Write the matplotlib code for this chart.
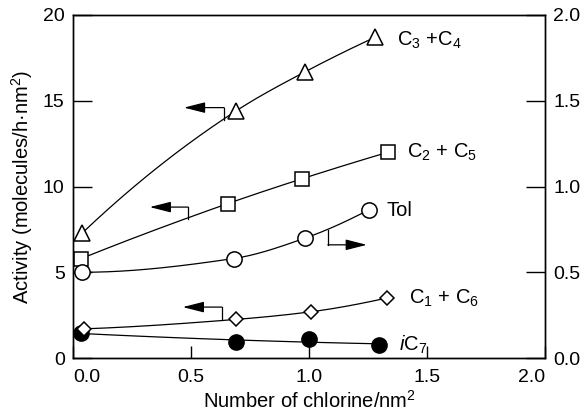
import numpy as np
import matplotlib
matplotlib.use("Agg")
import matplotlib.pyplot as plt

plt.rcParams["font.family"] = ["Liberation Sans", "DejaVu Sans"]
plt.rcParams["mathtext.fontset"] = "custom"
plt.rcParams["mathtext.rm"] = "Liberation Sans"
plt.rcParams["mathtext.it"] = "Liberation Sans:italic"

# chlorine density (per nm^2) and activities, left axis in molecules/h.nm^2
x_c3c4 = [0.04, 0.69, 0.985, 1.28]
y_c3c4 = [7.3, 14.4, 16.7, 18.7]

x_c2c5 = [0.035, 0.655, 0.97, 1.335]
y_c2c5 = [5.8, 9.0, 10.45, 12.0]

x_c1c6 = [0.045, 0.69, 1.01, 1.33]
y_c1c6 = [1.7, 2.25, 2.7, 3.5]

x_ic7 = [0.035, 0.69, 1.0, 1.295]
y_ic7 = [1.45, 0.93, 1.1, 0.76]

# toluene goes on the right axis
x_tol = [0.04, 0.68, 0.985, 1.255]
y_tol = [0.50, 0.58, 0.70, 0.865]


def smooth(xs, ys, n=60):
    # monotone cubic (Fritsch-Carlson) through the points
    x = np.asarray(xs, float)
    y = np.asarray(ys, float)
    h = np.diff(x)
    d = np.diff(y) / h
    m = np.zeros_like(y)
    for k in range(1, len(x) - 1):
        if d[k - 1] * d[k] > 0:
            w1 = 2 * h[k] + h[k - 1]
            w2 = h[k] + 2 * h[k - 1]
            m[k] = (w1 + w2) / (w1 / d[k - 1] + w2 / d[k])
    m[0] = ((2 * h[0] + h[1]) * d[0] - h[0] * d[1]) / (h[0] + h[1])
    if np.sign(m[0]) != np.sign(d[0]):
        m[0] = 0
    m[-1] = ((2 * h[-1] + h[-2]) * d[-1] - h[-1] * d[-2]) / (h[-1] + h[-2])
    if np.sign(m[-1]) != np.sign(d[-1]):
        m[-1] = 0
    xx, yy = [], []
    for k in range(len(x) - 1):
        t = np.linspace(0, 1, n)
        h00 = 2 * t**3 - 3 * t**2 + 1
        h10 = t**3 - 2 * t**2 + t
        h01 = -2 * t**3 + 3 * t**2
        h11 = t**3 - t**2
        xx.append(x[k] + t * h[k])
        yy.append(h00 * y[k] + h10 * h[k] * m[k] + h01 * y[k + 1] + h11 * h[k] * m[k + 1])
    return np.concatenate(xx), np.concatenate(yy)


fig = plt.figure(figsize=(5.87, 4.12), dpi=100)
ax = fig.add_axes([0.1244, 0.131, 0.8041, 0.8326])
ax2 = ax.twinx()

lw = 0.9
mk = dict(color="black", markerfacecolor="white", markeredgecolor="black",
          markeredgewidth=1.1, linestyle="none", zorder=6)

ax.plot(*smooth(x_c3c4, y_c3c4), color="black", lw=lw)
ax.plot(x_c3c4, y_c3c4, marker="^", ms=12, **mk)

ax.plot(*smooth(x_c2c5, y_c2c5), color="black", lw=lw)
ax.plot(x_c2c5, y_c2c5, marker="s", ms=10, **mk)

coef = np.polyfit(x_ic7, y_ic7, 2)
xf = np.linspace(x_ic7[0], x_ic7[-1], 100)
ax.plot(xf, np.polyval(coef, xf), color="black", lw=lw)
ax.plot(x_ic7, y_ic7, marker="o", ms=11, color="black", linestyle="none", zorder=5)

ax.plot(*smooth(x_c1c6, y_c1c6), color="black", lw=lw)
ax.plot(x_c1c6, y_c1c6, marker="D", ms=7.6, **mk)

ax2.plot(*smooth(x_tol, y_tol), color="black", lw=lw)
ax2.plot(x_tol, y_tol, marker="o", ms=11, **mk)

# bracket arrows pointing at the axis each curve belongs to
head = dict(arrowstyle="-|>,head_length=1.3,head_width=0.33", mutation_scale=10,
            color="black", lw=lw, shrinkA=0, shrinkB=0)


def bracket(x0, y0, y1, x_tip):
    ax.plot([x0, x0], [y0, y1], color="black", lw=lw)
    ax.annotate("", xy=(x_tip, y1), xytext=(x0, y1), arrowprops=head)


bracket(0.64, 13.9, 14.6, 0.47)
bracket(0.487, 8.1, 8.8, 0.325)
bracket(0.63, 2.2, 2.97, 0.465)
bracket(1.08, 7.45, 6.6, 1.245)

fs = 14
ax.text(1.373, 18.55, "C$_3$ +C$_4$", fontsize=14.5, va="center")
ax.text(1.415, 12.0, "C$_2$ + C$_5$", fontsize=14.5, va="center")
ax.text(1.327, 8.63, "Tol", fontsize=14.5, va="center")
ax.text(1.424, 3.5, "C$_1$ + C$_6$", fontsize=14.5, va="center")
ax.text(1.38, 0.76, "$i$C$_7$", fontsize=14.5, va="center")

ax.set_xlim(0, 2.0)
ax.set_ylim(0, 20)
ax2.set_ylim(0, 2.0)

ax.set_xticks([0.0, 0.5, 1.0, 1.5, 2.0])
ax.set_xticklabels(["0.0", "0.5", "1.0", "1.5", "2.0"])
ax.set_yticks([0, 5, 10, 15, 20])
ax2.set_yticks([0.0, 0.5, 1.0, 1.5, 2.0])
ax2.set_yticklabels(["0.0", "0.5", "1.0", "1.5", "2.0"])

ax.tick_params(axis="y", direction="in", length=14, width=1, labelsize=fs, pad=6)
ax.tick_params(axis="x", direction="in", length=8.5, width=1, labelsize=fs, pad=8)
ax2.tick_params(axis="y", direction="in", length=14, width=1, labelsize=fs, pad=6)

xl = ax.get_xticklabels()
xl[0].set_horizontalalignment("left")
xl[-1].set_horizontalalignment("right")

for a in (ax, ax2):
    for s in a.spines.values():
        s.set_linewidth(1)

ax.set_xlabel("Number of chlorine/nm$^2$", fontsize=14.5, labelpad=3)
ax.set_ylabel("Activity (molecules/h\u00b7nm$^2$)", fontsize=14.5, labelpad=6)

fig.savefig("out.png", dpi=100)
